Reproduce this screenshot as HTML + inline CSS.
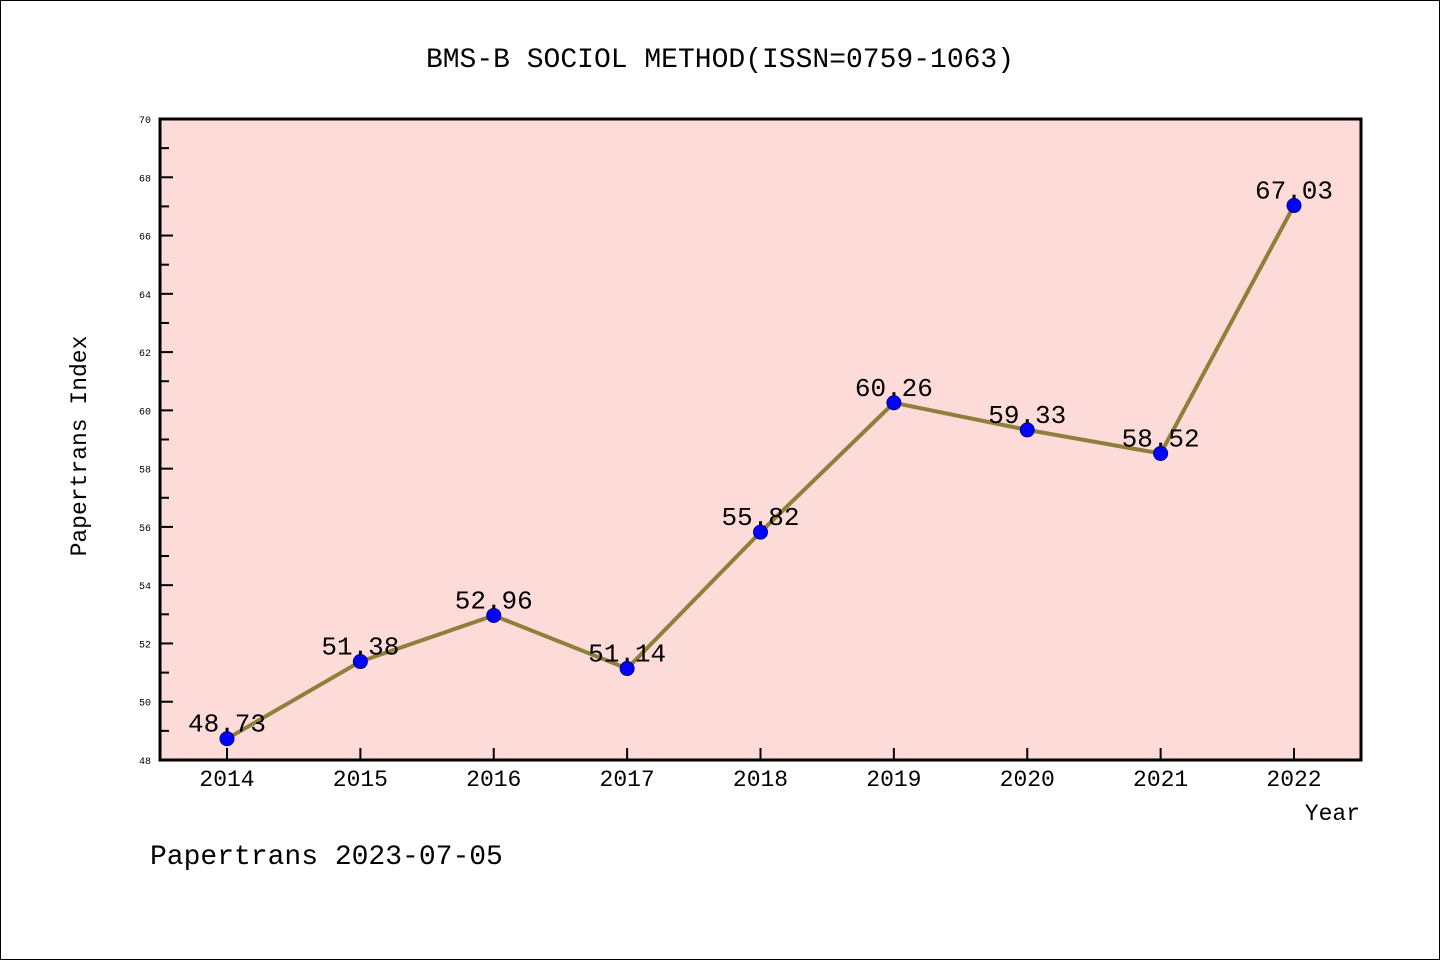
<!DOCTYPE html>
<html><head><meta charset="utf-8"><style>
body{margin:0;background:#fff}
svg{display:block;font-family:"WenQuanYi Zen Hei","Liberation Mono",monospace}
</style></head><body>
<svg id="c" width="1440" height="960" viewBox="0 0 1440 960">
<rect x="0.5" y="0.5" width="1439" height="959" fill="#fff" stroke="#000"/>
<text x="720" y="67" text-anchor="middle" font-size="28">BMS-B SOCIOL METHOD(ISSN=0759-1063)</text>
<rect x="160" y="119" width="1201" height="641" fill="#fddbd8"/>
<g id="ticks"></g>
<g id="series"></g>
<rect x="160" y="119" width="1201" height="641" fill="none" stroke="#000" stroke-width="3"/>
<text x="86" y="446" transform="rotate(-90 86 446)" text-anchor="middle" font-size="23">Papertrans Index</text>
<text x="1360" y="820" text-anchor="end" font-size="23">Year</text>
<text x="150" y="864" font-size="28">Papertrans 2023-07-05</text>
</svg>
<script>
const years = ["2014","2015","2016","2017","2018","2019","2020","2021","2022"];
const values = [48.73,51.38,52.96,51.14,55.82,60.26,59.33,58.52,67.03];
const yTicks = [48,50,52,54,56,58,60,62,64,66,68,70];
const NS="http://www.w3.org/2000/svg";
const x0=227,dx=(1294-227)/8,yTop=119,yBot=760,yMin=48,yMax=70;
const X=i=>x0+i*dx, Y=v=>yBot-(v-yMin)/(yMax-yMin)*(yBot-yTop);
function mk(t,a,p){const e=document.createElementNS(NS,t);for(const k in a)e.setAttribute(k,a[k]);p.appendChild(e);return e;}
const tg=document.getElementById('ticks'), sg=document.getElementById('series');
yTicks.forEach((v,i)=>{
 const y=Y(v);
 const l=mk('line',{x1:160,x2:173,y1:y,y2:y,stroke:'#000','stroke-width':2},tg);
 
 
 const t=mk('text',{x:151,y:y+4,'text-anchor':'end','font-size':10},tg);t.textContent=v;
 
 
 if(i<yTicks.length-1){const ym=Y(v+1);
  const m=mk('line',{x1:160,x2:169,y1:ym,y2:ym,stroke:'#000','stroke-width':2},tg);
  
  }
});
years.forEach((yr,i)=>{
 const x=X(i);
 const l=mk('line',{x1:x,x2:x,y1:760,y2:748,stroke:'#000','stroke-width':2},tg);
 
 
 const t=mk('text',{x:x,y:786,'text-anchor':'middle','font-size':23},tg);t.textContent=yr;
 
 
});
const pl=mk('polyline',{points:values.map((v,i)=>X(i)+','+Y(v)).join(' '),fill:'none',stroke:'#8f7f3a','stroke-width':4},sg);


values.forEach((v,i)=>{
 const c=mk('circle',{cx:X(i),cy:Y(v),r:7,fill:'#0000ff',stroke:'#00008b','stroke-width':1},sg);
 
 
 const t=mk('text',{x:X(i),y:Y(v)-7,'text-anchor':'middle','font-size':26},sg);t.textContent=v.toFixed(2);
 
 
});
</script>
</body></html>
